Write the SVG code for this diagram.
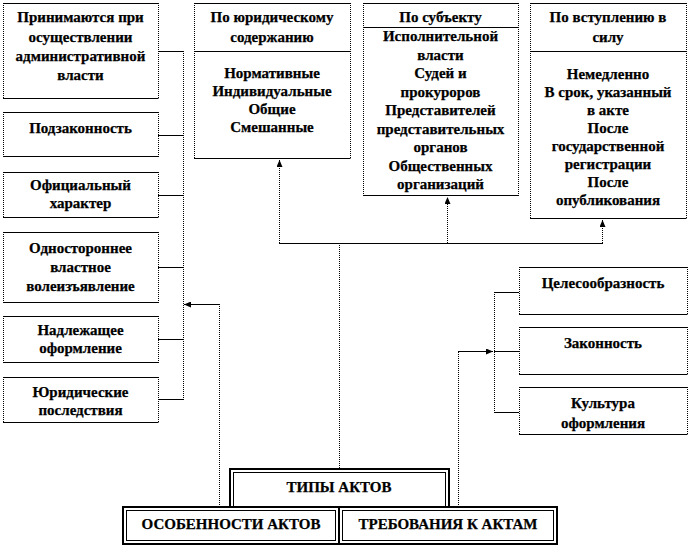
<svg xmlns="http://www.w3.org/2000/svg" width="690" height="548" viewBox="0 0 690 548">
<defs>
<marker id="arr" markerUnits="userSpaceOnUse" markerWidth="7" markerHeight="6" refX="7" refY="3" orient="auto">
<path d="M0,0 L7,3 L0,6 z" fill="#000"/>
</marker>
</defs>
<style>
.bg{fill:#fff;stroke:none}
.tb{stroke:#000;stroke-width:1;fill:none}
.sd{stroke:#000;stroke-width:1;stroke-dasharray:1 1;fill:none}
.h{stroke:#000;stroke-width:1;fill:none}
.v{stroke:#000;stroke-width:1;stroke-dasharray:1 1;fill:none}
.dbl-o{fill:#fff;stroke:#000;stroke-width:2}
.dbl-i{fill:none;stroke:#000;stroke-width:1}
text{font-weight:bold;font-size:15px;text-anchor:middle;fill:#000;stroke:#000;stroke-width:0.25}
</style>
<rect width="690" height="548" fill="#fff"/>

<g id="connectors">
<path class="h" d="M158,51.5 H183 M158,135.5 H183 M158,195.5 H183 M158,267.5 H183 M158,339.5 H183 M158,399.5 H183"/>
<path class="v" d="M183.5,51 V400"/>
<path class="v" d="M219.5,505 V304"/>
<path class="h" d="M219.5,304.5 H184" marker-end="url(#arr)"/>
<path class="v" d="M339.5,468 V243"/>
<path class="h" d="M279,243.5 H603"/>
<path class="v" d="M279.5,243 V160" marker-end="url(#arr)"/>
<path class="v" d="M447.5,243 V197" marker-end="url(#arr)"/>
<path class="v" d="M602.5,243 V220" marker-end="url(#arr)"/>
<path class="v" d="M458.5,505 V351"/>
<path class="h" d="M458,351.5 H493" marker-end="url(#arr)"/>
<path class="v" d="M494.5,292 V412"/>
<path class="h" d="M494,292.5 H519 M494,351.5 H519 M494,412.5 H519"/>
</g>

<g font-family="Liberation Serif, DejaVu Serif, serif">
<g id="n-l1">
<rect class="bg" x="3" y="3" width="155" height="96"/>
<path class="tb" d="M3,3.5 H158.5 M3,98.5 H158.5"/>
<path class="sd" d="M3.5,3 V99 M158.5,3 V99"/>
<text x="80.5" y="22">Принимаются при</text>
<text x="80.5" y="42">осуществлении</text>
<text x="80.5" y="61">административной</text>
<text x="80.5" y="80">власти</text>
</g>
<g id="n-l2">
<rect class="bg" x="3" y="112" width="155" height="45"/>
<path class="tb" d="M3,112.5 H158.5 M3,156.5 H158.5"/>
<path class="sd" d="M3.5,112 V157 M158.5,112 V157"/>
<text x="80.5" y="133">Подзаконность</text>
</g>
<g id="n-l3">
<rect class="bg" x="3" y="172" width="155" height="46"/>
<path class="tb" d="M3,172.5 H158.5 M3,217.5 H158.5"/>
<path class="sd" d="M3.5,172 V218 M158.5,172 V218"/>
<text x="80.5" y="190">Официальный</text>
<text x="80.5" y="208">характер</text>
</g>
<g id="n-l4">
<rect class="bg" x="3" y="232" width="155" height="71"/>
<path class="tb" d="M3,232.5 H158.5 M3,302.5 H158.5"/>
<path class="sd" d="M3.5,232 V303 M158.5,232 V303"/>
<text x="80.5" y="253">Одностороннее</text>
<text x="80.5" y="272">властное</text>
<text x="80.5" y="291">волеизъявление</text>
</g>
<g id="n-l5">
<rect class="bg" x="3" y="316" width="155" height="47"/>
<path class="tb" d="M3,316.5 H158.5 M3,362.5 H158.5"/>
<path class="sd" d="M3.5,316 V363 M158.5,316 V363"/>
<text x="80.5" y="335">Надлежащее</text>
<text x="80.5" y="353">оформление</text>
</g>
<g id="n-l6">
<rect class="bg" x="3" y="377" width="155" height="46"/>
<path class="tb" d="M3,377.5 H158.5 M3,422.5 H158.5"/>
<path class="sd" d="M3.5,377 V423 M158.5,377 V423"/>
<text x="80.5" y="397">Юридические</text>
<text x="80.5" y="415">последствия</text>
</g>

<g id="n-t1">
<rect class="bg" x="194" y="3" width="156" height="156"/>
<path class="tb" d="M194,3.5 H350.5 M194,51.5 H350.5 M194,158.5 H350.5"/>
<path class="sd" d="M194.5,3 V159 M350.5,3 V159"/>
<text x="272" y="22">По юридическому</text>
<text x="272" y="42">содержанию</text>
<text x="272" y="78">Нормативные</text>
<text x="272" y="96">Индивидуальные</text>
<text x="272" y="114">Общие</text>
<text x="272" y="132">Смешанные</text>
</g>
<g id="n-t2">
<rect class="bg" x="363" y="3" width="155" height="193"/>
<path class="tb" d="M363,3.5 H518.5 M363,27.5 H518.5 M363,195.5 H518.5"/>
<path class="sd" d="M363.5,3 V196 M518.5,3 V196"/>
<text x="440.5" y="22">По субъекту</text>
<text x="440.5" y="41">Исполнительной</text>
<text x="440.5" y="59.5">власти</text>
<text x="440.5" y="78">Судей и</text>
<text x="440.5" y="96.5">прокуроров</text>
<text x="440.5" y="115">Представителей</text>
<text x="440.5" y="133.5">представительных</text>
<text x="440.5" y="152">органов</text>
<text x="440.5" y="170.5">Общественных</text>
<text x="440.5" y="189">организаций</text>
</g>
<g id="n-t3">
<rect class="bg" x="530" y="3" width="156" height="216"/>
<path class="tb" d="M530,3.5 H686.5 M530,51.5 H686.5 M530,218.5 H686.5"/>
<path class="sd" d="M530.5,3 V219 M686.5,3 V219"/>
<text x="608" y="22">По вступлению в</text>
<text x="608" y="42">силу</text>
<text x="608" y="79">Немедленно</text>
<text x="608" y="97">В срок, указанный</text>
<text x="608" y="115">в акте</text>
<text x="608" y="133">После</text>
<text x="608" y="151">государственной</text>
<text x="608" y="169">регистрации</text>
<text x="608" y="187">После</text>
<text x="608" y="205">опубликования</text>
</g>

<g id="n-r1">
<rect class="bg" x="519" y="267" width="168" height="48"/>
<path class="tb" d="M519,267.5 H687.5 M519,314.5 H687.5"/>
<path class="sd" d="M519.5,267 V315 M687.5,267 V315"/>
<text x="603" y="288">Целесообразность</text>
</g>
<g id="n-r2">
<rect class="bg" x="519" y="327" width="168" height="48"/>
<path class="tb" d="M519,327.5 H687.5 M519,374.5 H687.5"/>
<path class="sd" d="M519.5,327 V375 M687.5,327 V375"/>
<text x="603" y="348">Законность</text>
</g>
<g id="n-r3">
<rect class="bg" x="519" y="387" width="168" height="48"/>
<path class="tb" d="M519,387.5 H687.5 M519,434.5 H687.5"/>
<path class="sd" d="M519.5,387 V435 M687.5,387 V435"/>
<text x="603" y="408">Культура</text>
<text x="603" y="428">оформления</text>
</g>

<g id="n-types">
<rect class="dbl-o" x="230" y="469" width="219" height="40"/>
<rect class="dbl-i" x="233.5" y="472.5" width="212" height="40"/>
<text x="339" y="492">ТИПЫ АКТОВ</text>
</g>
<g id="n-features">
<rect class="dbl-o" x="123" y="507" width="216" height="37"/>
<rect class="dbl-i" x="126.5" y="510.5" width="209" height="30"/>
<text x="231" y="529">ОСОБЕННОСТИ АКТОВ</text>
</g>
<g id="n-reqs">
<rect class="dbl-o" x="339" y="507" width="218" height="37"/>
<rect class="dbl-i" x="342.5" y="510.5" width="211" height="30"/>
<text x="448" y="529">ТРЕБОВАНИЯ К АКТАМ</text>
</g>
</g>
</svg>
